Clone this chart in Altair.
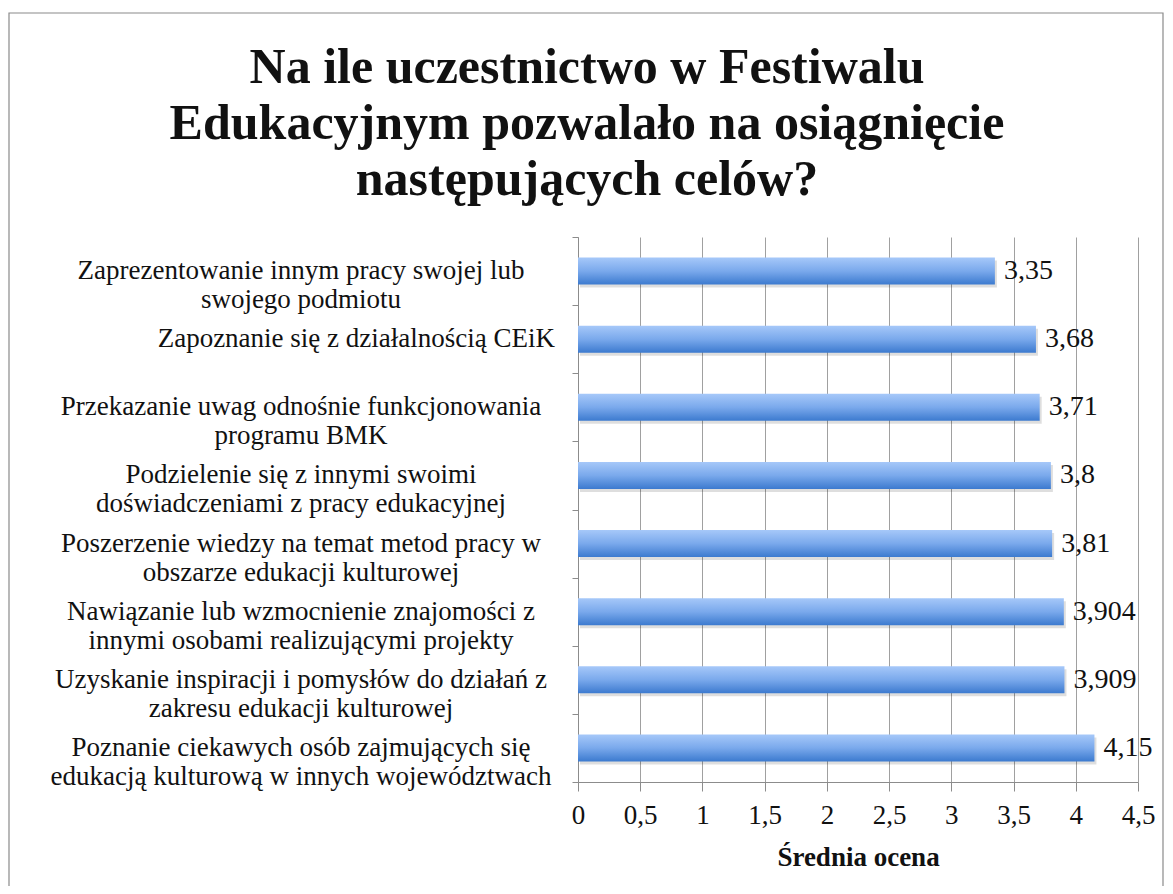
import altair as alt
import pandas as pd

categories = [
    "Zaprezentowanie innym pracy swojej lub\nswojego podmiotu",
    "Zapoznanie się z działalnością CEiK",
    "Przekazanie uwag odnośnie funkcjonowania\nprogramu BMK",
    "Podzielenie się z innymi swoimi\ndoświadczeniami z pracy edukacyjnej",
    "Poszerzenie wiedzy na temat metod pracy w\nobszarze edukacji kulturowej",
    "Nawiązanie lub wzmocnienie znajomości z\ninnymi osobami realizującymi projekty",
    "Uzyskanie inspiracji i pomysłów do działań z\nzakresu edukacji kulturowej",
    "Poznanie ciekawych osób zajmujących się\nedukacją kulturową w innych województwach",
]
values = [3.35, 3.68, 3.71, 3.8, 3.81, 3.904, 3.909, 4.15]
x_ticks = [0, 0.5, 1, 1.5, 2, 2.5, 3, 3.5, 4, 4.5]
title_lines = [
    "Na ile uczestnictwo w Festiwalu",
    "Edukacyjnym pozwalało na osiągnięcie",
    "następujących celów?",
]
x_title = "Średnia ocena"

FONT = "Liberation Serif"
GRAY = "#8c8c8c"
TXT = "#111111"

df = pd.DataFrame({"cat": categories, "val": values})

y_enc = alt.Y(
    "cat:N",
    sort=None,
    scale=alt.Scale(paddingInner=0, paddingOuter=0),
    axis=alt.Axis(
        title=None,
        labels=False,
        tickBand="extent",
        tickSize=6,
        tickColor=GRAY,
        domainColor=GRAY,
        grid=False,
    ),
)

x_enc = alt.X(
    "val:Q",
    scale=alt.Scale(domain=[0, 4.5], nice=False, zero=True),
    axis=alt.Axis(
        values=x_ticks,
        labelExpr="replace(format(datum.value, '~g'), '.', ',')",
        labelFlush=False,
        labelFont=FONT,
        labelFontSize=27,
        labelColor=TXT,
        labelPadding=11,
        tickSize=9,
        tickColor=GRAY,
        domainColor=GRAY,
        grid=True,
        gridColor="#a0a0a0",
        title=x_title,
        titleFont=FONT,
        titleFontSize=27,
        titleFontWeight="bold",
        titleColor=TXT,
        titlePadding=16,
    ),
)

base = alt.Chart(df)

border = alt.Chart(alt.Data(values=[{}])).mark_rect(
    fillOpacity=0, stroke="#8a8a8a", strokeWidth=1.2
).encode(
    x=alt.value(-569), x2=alt.value(585), y=alt.value(-224), y2=alt.value(720)
)

title = alt.Chart(alt.Data(values=[{}])).mark_text(
    text=title_lines,
    font=FONT,
    fontSize=50,
    fontWeight="bold",
    lineHeight=56,
    align="center",
    baseline="top",
    color=TXT,
).encode(x=alt.value(9), y=alt.value(-194))

shadow = base.mark_bar(size=27, color="#000000", opacity=0.13, xOffset=2, yOffset=3).encode(
    x=x_enc, y=y_enc
)

bars = base.mark_bar(
    size=27,
    color=alt.Gradient(
        gradient="linear",
        stops=[
            alt.GradientStop(color="#a6c8f9", offset=0),
            alt.GradientStop(color="#7aa9ec", offset=0.5),
            alt.GradientStop(color="#3c7acf", offset=1),
        ],
        x1=0, x2=0, y1=0, y2=1,
    ),
).encode(x=x_enc, y=y_enc)

values_text = base.mark_text(
    align="left", baseline="middle", dx=9, font=FONT, fontSize=28, color=TXT
).transform_calculate(
    lab="replace(toString(datum.val), '.', ',')"
).encode(x=x_enc, y=y_enc, text="lab:N")

# category labels: multi-line blocks centred, single-line labels right-aligned
cat_multi = base.transform_filter("indexof(datum.cat, '\\n') >= 0").mark_text(
    align="center", baseline="middle", lineBreak="\n", lineHeight=29,
    font=FONT, fontSize=27, color=TXT,
).encode(x=alt.value(-277), y=y_enc, text="cat:N")

cat_single = base.transform_filter("indexof(datum.cat, '\\n') < 0").mark_text(
    align="right", baseline="middle",
    font=FONT, fontSize=27, color=TXT,
).encode(x=alt.value(-23), y=y_enc, text="cat:N")

chart = alt.layer(border, title, shadow, bars, values_text, cat_multi, cat_single).properties(
    width=560,
    height=545,
    autosize=alt.AutoSizeParams(type="none"),
    padding={"left": 570, "top": 229, "right": 27, "bottom": 104},
    background="white",
).configure_view(stroke=None)

chart.save("out.html", embed_options={"renderer": "svg", "actions": False})
